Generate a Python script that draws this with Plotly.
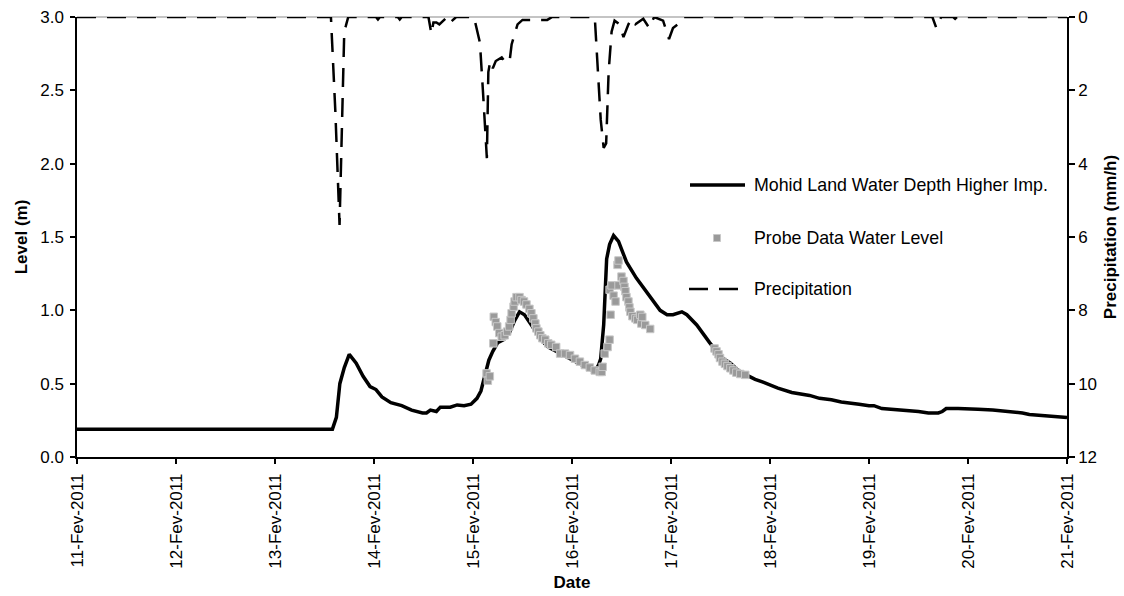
import pandas as pd
import plotly.graph_objects as go

# ---------------- data (day of February 2011, decimal) ----------------
mohid_day = [11.0, 13.58, 13.62, 13.655, 13.70, 13.75, 13.82, 13.89, 13.96, 14.02, 14.08, 14.17,
             14.28, 14.38, 14.49, 14.53, 14.57, 14.63, 14.67, 14.72, 14.77, 14.84, 14.91, 14.98,
             15.04, 15.08, 15.12, 15.16, 15.20, 15.25, 15.31, 15.37, 15.42, 15.47, 15.52, 15.59,
             15.65, 15.70, 15.76, 15.84, 15.92, 16.00, 16.08, 16.16, 16.23, 16.27, 16.29, 16.32,
             16.35, 16.38, 16.42, 16.47, 16.55, 16.65, 16.79, 16.89, 16.96, 17.02, 17.11, 17.16,
             17.26, 17.33, 17.39, 17.46, 17.53, 17.60, 17.68, 17.76, 17.85, 17.93, 18.00, 18.08,
             18.22, 18.32, 18.40, 18.50, 18.62, 18.72, 18.80, 18.90, 19.00, 19.05, 19.13, 19.25,
             19.39, 19.50, 19.60, 19.70, 19.74, 19.78, 19.90, 20.00, 20.10, 20.25, 20.43, 20.55,
             20.62, 20.70, 20.85, 20.95, 21.0]
mohid_level = [0.19, 0.19, 0.27, 0.50, 0.61, 0.70, 0.64, 0.55, 0.48, 0.46, 0.41, 0.37,
               0.35, 0.32, 0.30, 0.30, 0.32, 0.31, 0.34, 0.34, 0.34, 0.355, 0.35, 0.36,
               0.40, 0.45, 0.55, 0.66, 0.72, 0.78, 0.80, 0.85, 0.93, 0.99, 0.97, 0.90,
               0.84, 0.79, 0.75, 0.72, 0.69, 0.66, 0.63, 0.60, 0.58, 0.63, 0.67, 0.90,
               1.35, 1.45, 1.51, 1.47, 1.33, 1.22, 1.09, 1.00, 0.97, 0.97, 0.99, 0.97,
               0.90, 0.83, 0.78, 0.72, 0.67, 0.64, 0.59, 0.56, 0.53, 0.51, 0.49, 0.47,
               0.44, 0.43, 0.42, 0.40, 0.39, 0.375, 0.37, 0.36, 0.35, 0.35, 0.33, 0.325,
               0.32, 0.31, 0.30, 0.30, 0.31, 0.33, 0.33, 0.33, 0.325, 0.32, 0.31, 0.30,
               0.29, 0.285, 0.28, 0.275, 0.27]

probe_day = [15.137, 15.15, 15.17, 15.205, 15.21, 15.23, 15.245, 15.265, 15.29, 15.32, 15.345,
             15.365, 15.38, 15.39, 15.41, 15.42, 15.44, 15.47, 15.49, 15.515, 15.54, 15.57,
             15.59, 15.61, 15.63, 15.64, 15.66, 15.68, 15.70, 15.73, 15.76, 15.79, 15.84,
             15.88, 15.93, 15.98, 16.03, 16.08, 16.13, 16.18, 16.23, 16.28, 16.30, 16.31,
             16.33, 16.36, 16.38, 16.38, 16.39, 16.40, 16.42, 16.44, 16.46, 16.47, 16.47,
             16.50, 16.52, 16.53, 16.54, 16.55, 16.57, 16.58, 16.59, 16.61, 16.64, 16.66,
             16.69, 16.70, 16.71, 16.74, 16.79,
             17.44, 17.46, 17.48, 17.495, 17.52, 17.545, 17.57, 17.60, 17.63, 17.66, 17.70, 17.75]
probe_level = [0.57, 0.52, 0.55, 0.775, 0.956, 0.92, 0.89, 0.845, 0.82, 0.83, 0.855,
               0.89, 0.935, 0.98, 1.025, 1.06, 1.09, 1.09, 1.07, 1.06, 1.04, 1.01,
               0.98, 0.945, 0.91, 0.877, 0.855, 0.83, 0.81, 0.80, 0.775, 0.765, 0.75,
               0.705, 0.705, 0.695, 0.67, 0.65, 0.627, 0.61, 0.59, 0.58, 0.58, 0.615,
               0.705, 0.75, 0.80, 1.14, 0.97, 1.17, 1.10, 1.06, 1.31, 1.34, 1.17,
               1.23, 1.20, 1.16, 1.13, 1.09, 1.06, 1.02, 0.99, 0.96, 0.945, 0.935,
               0.97, 0.91, 0.955, 0.90, 0.873,
               0.74, 0.72, 0.70, 0.675, 0.65, 0.635, 0.62, 0.605, 0.59, 0.575, 0.566, 0.56]

precip_day = [11.0, 13.565, 13.61, 13.652, 13.70, 13.715, 13.74, 14.02, 14.04, 14.06, 14.24,
              14.26, 14.28, 14.55, 14.58, 14.60, 14.63, 14.66, 14.72, 14.75, 14.79, 14.83,
              15.01, 15.07, 15.10, 15.14, 15.155, 15.175, 15.20, 15.23, 15.29, 15.33, 15.37,
              15.39, 15.45, 15.50, 15.75, 15.80, 16.23, 16.26, 16.29, 16.32, 16.345, 16.37,
              16.40, 16.43, 16.48, 16.52, 16.57, 16.60, 16.64, 16.72, 16.78, 16.83, 16.92,
              16.98, 17.02, 17.07, 17.12, 19.64, 19.68, 19.71, 19.73, 19.85, 19.87, 19.89, 21.0]
precip_mm = [0, 0, 2.6, 5.67, 0.35, 0.25, 0, 0, 0.07, 0, 0,
             0.07, 0, 0, 0.46, 0.15, 0.15, 0.2, 0.05, 0.2, 0.1, 0,
             0, 0.7, 2.0, 3.85, 1.5, 1.2, 1.4, 1.2, 1.1, 1.25, 1.2,
             0.75, 0.2, 0.08, 0.08, 0, 0, 1.5, 2.8, 3.57, 3.45, 1.5,
             0.4, 0.1, 0.2, 0.55, 0.2, 0.05, 0.2, 0.05, 0.3, 0, 0.1,
             0.6, 0.3, 0.2, 0, 0, 0.3, 0.1, 0, 0, 0.05, 0, 0]

tick_days = [11, 12, 13, 14, 15, 16, 17, 18, 19, 20, 21]
tick_text = ["11-Fev-2011", "12-Fev-2011", "13-Fev-2011", "14-Fev-2011", "15-Fev-2011",
             "16-Fev-2011", "17-Fev-2011", "18-Fev-2011", "19-Fev-2011", "20-Fev-2011",
             "21-Fev-2011"]

series_names = ["Mohid Land Water Depth Higher Imp.", "Probe Data Water Level", "Precipitation"]


def to_dt(days):
    base = pd.Timestamp("2011-02-01")
    return [base + pd.to_timedelta(d - 1, unit="D") for d in days]


FONT = "Arial, 'Liberation Sans', sans-serif"
W, H = 1124, 596
ML, MR, MT, MB = 77, 57, 17, 139
PW, PH = W - ML - MR, H - MT - MB


def px(xp):
    return (xp - ML) / PW


def py(yp):
    return (H - MB - yp) / PH


PROBE_FILL, PROBE_EDGE = "#9a9a9a", "#c8c8c8"
DASH = "19px,11px"

fig = go.Figure()
fig.add_trace(go.Scatter(
    x=to_dt(mohid_day), y=mohid_level, mode="lines", name=series_names[0],
    line=dict(color="black", width=3.5), showlegend=False))
fig.add_trace(go.Scatter(
    x=to_dt(probe_day), y=probe_level, mode="markers", name=series_names[1],
    marker=dict(symbol="square", size=7.5, color=PROBE_FILL,
                line=dict(color=PROBE_EDGE, width=1)), showlegend=False))
fig.add_trace(go.Scatter(
    x=to_dt(precip_day), y=precip_mm, mode="lines", yaxis="y2", name=series_names[2],
    line=dict(color="black", width=2.5, dash=DASH), showlegend=False))

# legend (drawn as shapes + text to match the long line samples)
leg_y = [185, 238, 289]
shapes = [dict(type="line", xref="paper", yref="paper", x0=0, x1=1, y0=1, y1=1,
               line=dict(color="#b0b0b0", width=1.5), layer="below"),
          dict(type="line", xref="paper", yref="paper", x0=px(690), x1=px(745),
               y0=py(leg_y[0]), y1=py(leg_y[0]), line=dict(color="black", width=3.5)),
          dict(type="rect", xref="paper", yref="paper", x0=px(713.5), x1=px(720.5),
               y0=py(leg_y[1] + 3.5), y1=py(leg_y[1] - 3.5),
               fillcolor=PROBE_FILL, line=dict(color=PROBE_EDGE, width=1)),
          dict(type="line", xref="paper", yref="paper", x0=px(689), x1=px(745),
               y0=py(leg_y[2]), y1=py(leg_y[2]), line=dict(color="black", width=2.5, dash=DASH))]
annotations = [dict(text=n, xref="paper", yref="paper", x=px(752), y=py(yy),
                    xanchor="left", yanchor="middle", showarrow=False,
                    font=dict(size=17.8, family=FONT, color="black"))
               for n, yy in zip(series_names, leg_y)]

fig.update_layout(
    width=W, height=H,
    margin=dict(l=ML, r=MR, t=MT, b=MB, autoexpand=False),
    paper_bgcolor="white", plot_bgcolor="white",
    font=dict(family=FONT, size=17, color="black"),
    showlegend=False,
    xaxis=dict(
        range=[pd.Timestamp("2011-02-11"), pd.Timestamp("2011-02-21")],
        tickvals=to_dt(tick_days), ticktext=tick_text, tickangle=-90,
        showgrid=False, zeroline=False, showline=True, linecolor="black", linewidth=1.5,
        ticks="outside", ticklen=5, tickwidth=1.5, tickcolor="black", automargin=False,
        ticklabelstandoff=3,
        title=dict(text="Date", font=dict(size=17, weight="bold"), standoff=8)),
    yaxis=dict(
        range=[0, 3], dtick=0.5, tick0=0, tickformat=".1f", automargin=False,
        showgrid=False, zeroline=False, showline=True, linecolor="black", linewidth=1.5,
        ticks="outside", ticklen=5, tickwidth=1.5, tickcolor="black",
        ticklabelstandoff=3,
        title=dict(text="Level (m)", font=dict(size=17, weight="bold"), standoff=8)),
    yaxis2=dict(
        range=[12, 0], dtick=2, tick0=0, overlaying="y", side="right", automargin=False,
        showgrid=False, zeroline=False, showline=True, linecolor="black", linewidth=1.5,
        ticks="outside", ticklen=6, tickwidth=1.5, tickcolor="black",
        title=dict(text="Precipitation (mm/h)", font=dict(size=17, weight="bold"), standoff=8)),
    shapes=shapes,
    annotations=annotations,
)

fig.write_html("out.html")
